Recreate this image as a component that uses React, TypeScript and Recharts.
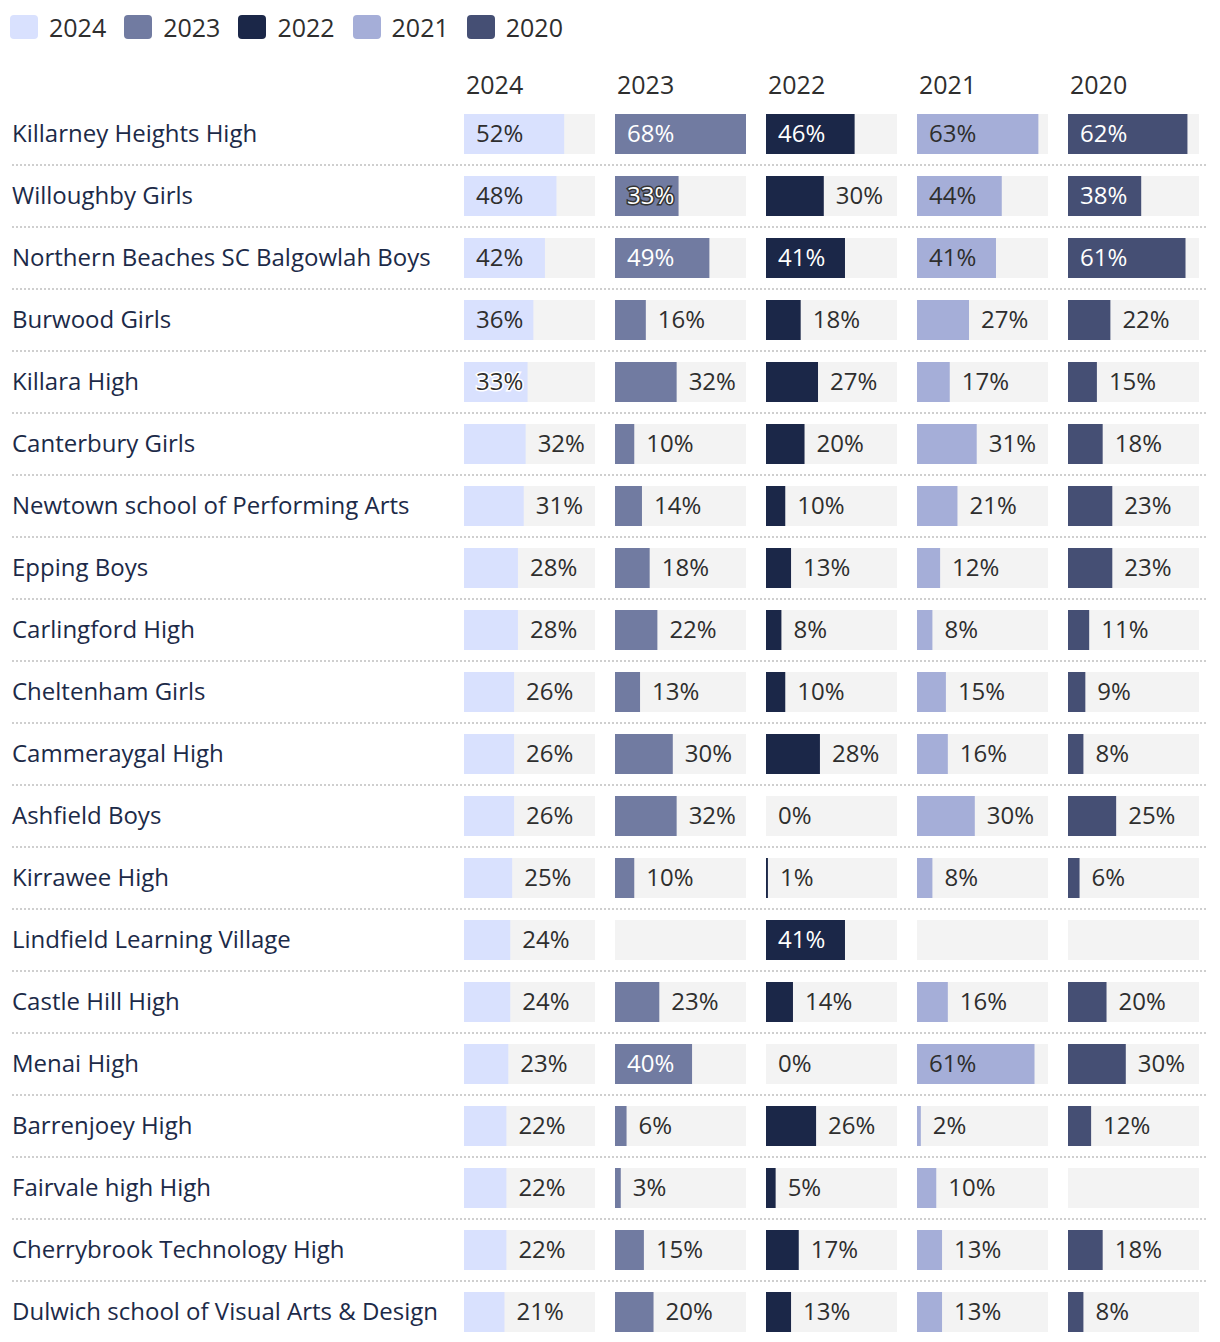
import React from "react";
import { BarChart, Bar, XAxis, YAxis, CartesianGrid, LabelList } from "recharts";

const schools = [
  "Killarney Heights High",
  "Willoughby Girls",
  "Northern Beaches SC Balgowlah Boys",
  "Burwood Girls",
  "Killara High",
  "Canterbury Girls",
  "Newtown school of Performing Arts",
  "Epping Boys",
  "Carlingford High",
  "Cheltenham Girls",
  "Cammeraygal High",
  "Ashfield Boys",
  "Kirrawee High",
  "Lindfield Learning Village",
  "Castle Hill High",
  "Menai High",
  "Barrenjoey High",
  "Fairvale high High",
  "Cherrybrook Technology High",
  "Dulwich school of Visual Arts & Design",
];

const years = ["2024", "2023", "2022", "2021", "2020"];
const colors = ["#d9e1fe", "#717ba1", "#1b2748", "#a5aed8", "#454f74"];
// light bars get dark text inside them
const lightBar = [true, false, false, true, false];

const pct2024 = [52, 48, 42, 36, 33, 32, 31, 28, 28, 26, 26, 26, 25, 24, 24, 23, 22, 22, 22, 21];
const pct2023 = [68, 33, 49, 16, 32, 10, 14, 18, 22, 13, 30, 32, 10, null, 23, 40, 6, 3, 15, 20];
const pct2022 = [46, 30, 41, 18, 27, 20, 10, 13, 8, 10, 28, 0, 1, 41, 14, 0, 26, 5, 17, 13];
const pct2021 = [63, 44, 41, 27, 17, 31, 21, 12, 8, 15, 16, 30, 8, null, 16, 61, 2, 10, 13, 13];
const pct2020 = [62, 38, 61, 22, 15, 18, 23, 23, 11, 9, 8, 25, 6, null, 20, 30, 12, null, 18, 8];

const series = [pct2024, pct2023, pct2022, pct2021, pct2020];

const rows = schools.map((name, i) => {
  const row: { [key: string]: any } = { name };
  years.forEach((y, k) => {
    row[y] = series[k][i];
  });
  return row;
});

const maxPct = Math.max(...(series.flat().filter((v) => v != null) as number[]));

const FONT = "'Open Sans', sans-serif";
const TOP = 95;
const CHART_H = 1240;
const COL_LEFT = 456;
const COL_W = 131;
const COL_STEP = 151;

function SchoolTick(props: any) {
  const { y, payload } = props;
  return (
    <text x={4} y={y} dy="0.35em" fontSize={24} fontFamily={FONT} fill="#1c2a48">
      {payload.value}
    </text>
  );
}

// drawn on the full-width track, so zero and empty rows still get a slot
function ValueLabel(props: any) {
  const { value, light } = props;
  if (value == null) return null;
  const x = Number(props.x);
  const y = Number(props.y);
  const trackW = Number(props.width);
  const height = Number(props.height);
  const barW = (trackW * value) / maxPct;
  const inside = barW >= 62;
  const tight = inside && barW < 68;
  const tx = inside ? x + 12 : x + barW + 12;
  const fill = inside && !light ? "#ffffff" : "#2e2e2e";
  return (
    <text
      x={tx}
      y={y + height / 2}
      dy="0.35em"
      fontSize={24}
      fontFamily={FONT}
      fill={fill}
      stroke={tight ? (light ? "#ffffff" : "#333333") : "none"}
      strokeWidth={tight ? 3 : 0}
      paintOrder="stroke"
    >
      {value}%
    </text>
  );
}

export default function App() {
  return (
    <div style={{ position: "relative", width: 1204, height: 1335, fontFamily: FONT }}>
      <div style={{ position: "absolute", left: 2, top: 6, display: "flex", alignItems: "center" }}>
        {years.map((y, k) => (
          <div key={y} style={{ display: "flex", alignItems: "center", marginRight: 18 }}>
            <div style={{ width: 28, height: 24, borderRadius: 4, background: colors[k], marginRight: 11 }} />
            <span style={{ fontSize: 25, color: "#2e2e2e", lineHeight: "26px" }}>{y}</span>
          </div>
        ))}
      </div>
      {years.map((y, k) => (
        <div
          key={y}
          style={{
            position: "absolute",
            left: COL_LEFT + COL_STEP * k + 2,
            top: 62,
            fontSize: 25,
            color: "#2e2e2e",
            lineHeight: "28px",
          }}
        >
          {y}
        </div>
      ))}
      <div style={{ position: "absolute", left: 0, top: TOP }}>
        <BarChart
          layout="vertical"
          width={1200}
          height={CHART_H}
          data={rows}
          margin={{ top: 0, right: 0, bottom: 0, left: 4 }}
        >
          <CartesianGrid
            vertical={false}
            stroke="#cfcfcf"
            strokeWidth={2}
            strokeDasharray="2 2"
            horizontalCoordinatesGenerator={({ offset }: any) => {
              const band = offset.height / rows.length;
              return rows.slice(1).map((_, i) => offset.top + band * (i + 1));
            }}
          />
          <XAxis type="number" domain={[0, maxPct]} hide />
          <YAxis
            type="category"
            dataKey="name"
            mirror
            axisLine={false}
            tickLine={false}
            tick={<SchoolTick />}
            interval={0}
          />
        </BarChart>
      </div>
      {years.map((y, k) => (
        <div key={y} style={{ position: "absolute", left: COL_LEFT + COL_STEP * k, top: TOP }}>
          <BarChart
            layout="vertical"
            width={COL_W}
            height={CHART_H}
            data={rows}
            margin={{ top: 0, right: 0, bottom: 0, left: 0 }}
            style={{ overflow: "visible" }}
          >
            <XAxis type="number" domain={[0, maxPct]} hide />
            <YAxis yAxisId="track" type="category" dataKey="name" hide />
            <YAxis yAxisId="value" type="category" dataKey="name" hide />
            <YAxis yAxisId="label" type="category" dataKey="name" hide />
            <Bar
              yAxisId="track"
              dataKey={() => maxPct}
              fill="#f3f3f3"
              barSize={40}
              isAnimationActive={false}
            />
            <Bar yAxisId="value" dataKey={y} fill={colors[k]} barSize={40} isAnimationActive={false} />
            <Bar
              yAxisId="label"
              dataKey={() => maxPct}
              fill="none"
              barSize={40}
              isAnimationActive={false}
            >
              <LabelList dataKey={y} content={(p: any) => <ValueLabel {...p} light={lightBar[k]} />} />
            </Bar>
          </BarChart>
        </div>
      ))}
    </div>
  );
}
